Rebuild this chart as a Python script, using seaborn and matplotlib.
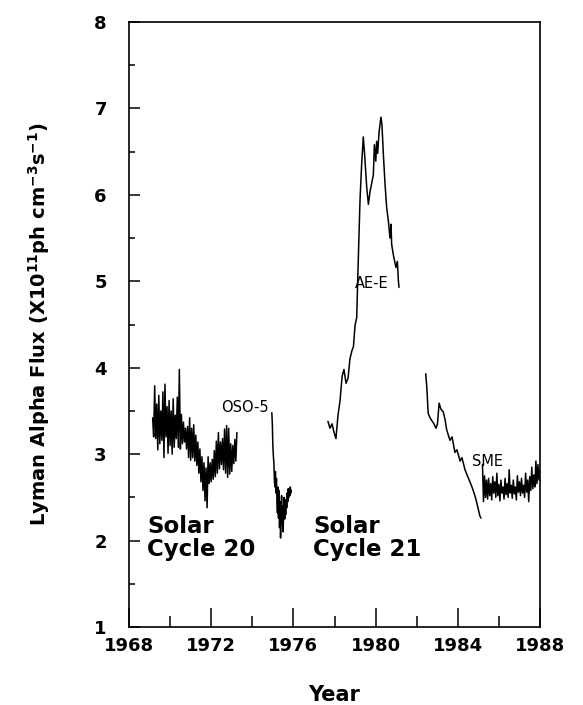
import numpy as np
import pandas as pd
import matplotlib
matplotlib.use("Agg")
import matplotlib.pyplot as plt
import seaborn as sns

# ---- Lyman alpha flux records (units of 1e11 ph cm^-3 s^-1) ----
# OSO-5, first stretch: evenly sampled every 0.05 yr from 1969.15
oso5_start, oso5_step = 1969.15, 0.05
oso5_flux = [
    3.42, 3.20, 3.79, 3.18, 3.58, 3.05, 3.68, 3.12, 3.50, 3.16,
    3.72, 2.96, 3.81, 3.20, 3.55, 3.01, 3.62, 3.10, 3.50, 3.00,
    3.64, 3.08, 3.45, 3.18, 3.66, 3.08, 3.98, 3.06, 3.46, 3.12,
    3.37, 3.14, 3.30, 3.06, 3.32, 2.96, 3.42, 2.93, 3.30, 2.96,
    3.34, 2.92, 3.22, 2.87, 3.14, 2.78, 3.06, 2.68, 2.97, 2.58,
    2.90, 2.46, 2.84, 2.38, 2.97, 2.66, 2.90, 2.68, 2.94, 2.71,
    3.04, 2.74, 3.15, 2.78, 3.25, 2.83, 3.14, 2.88, 3.18, 2.82,
    3.29, 2.78, 3.33, 2.73, 3.30, 2.77, 3.12, 2.80, 3.10, 2.89,
    3.17, 2.92, 3.25,
]

# OSO-5, second stretch: every 0.025 yr from 1974.95
oso5b_start, oso5b_step = 1974.95, 0.025
oso5b_flux = [
    3.48, 3.35, 3.10, 2.98, 2.90, 2.70, 2.62, 2.80, 2.55, 2.72,
    2.45, 2.32, 2.62, 2.26, 2.58, 2.15, 2.45, 2.03, 2.30, 2.52,
    2.18, 2.40, 2.10, 2.35, 2.50, 2.25, 2.42, 2.30, 2.48, 2.38,
    2.55, 2.45, 2.60, 2.50, 2.58, 2.52, 2.62, 2.55, 2.58,
]

# AE-E
aee_year = [
    1977.68, 1977.78, 1977.88, 1977.98, 1978.07, 1978.17, 1978.27, 1978.37,
    1978.46, 1978.56, 1978.66, 1978.75, 1978.85, 1978.92, 1979.00, 1979.08,
    1979.16, 1979.24, 1979.32, 1979.40, 1979.48, 1979.57, 1979.65, 1979.73,
    1979.89, 1979.94, 1980.01, 1980.05, 1980.10, 1980.17, 1980.26, 1980.31,
    1980.38, 1980.46, 1980.54, 1980.62, 1980.70, 1980.75, 1980.78, 1980.86,
    1980.99, 1981.06, 1981.11, 1981.14,
]
aee_flux = [
    3.38, 3.30, 3.35, 3.25, 3.18, 3.45, 3.62, 3.90,
    3.98, 3.82, 3.88, 4.10, 4.20, 4.24, 4.49, 4.58,
    5.27, 5.93, 6.35, 6.67, 6.42, 6.08, 5.89, 6.04,
    6.23, 6.58, 6.39, 6.62, 6.48, 6.73, 6.90, 6.81,
    6.46, 6.12, 5.85, 5.70, 5.50, 5.66, 5.43, 5.31,
    5.16, 5.23, 5.00, 4.93,
]

# SME, decline phase
sme_year = [
    1982.44, 1982.49, 1982.56, 1982.65, 1982.73, 1982.84, 1982.94, 1983.01,
    1983.09, 1983.18, 1983.29, 1983.38, 1983.46, 1983.54, 1983.62, 1983.72,
    1983.86, 1983.96, 1984.11, 1984.20, 1984.35, 1984.45, 1984.59, 1984.69,
    1984.79, 1984.88, 1984.98, 1985.08, 1985.13,
]
sme_flux = [
    3.93, 3.78, 3.47, 3.42, 3.39, 3.35, 3.30, 3.35,
    3.59, 3.52, 3.49, 3.40, 3.28, 3.22, 3.16, 3.20,
    3.02, 3.05, 2.92, 2.96, 2.82, 2.76, 2.68, 2.62,
    2.55, 2.48, 2.38, 2.28, 2.26,
]

# SME, minimum phase: every 0.05 yr from 1985.20
sme_min_start, sme_min_step = 1985.20, 0.05
sme_min_flux = [
    2.88, 2.45, 2.75, 2.50, 2.70, 2.48, 2.72, 2.52, 2.66, 2.47,
    2.74, 2.55, 2.68, 2.50, 2.78, 2.52, 2.65, 2.46, 2.70, 2.55,
    2.62, 2.48, 2.72, 2.53, 2.66, 2.50, 2.82, 2.55, 2.64, 2.49,
    2.70, 2.54, 2.62, 2.47, 2.75, 2.56, 2.68, 2.52, 2.72, 2.55,
    2.64, 2.50, 2.78, 2.56, 2.70, 2.45, 2.74, 2.58, 2.85, 2.60,
    2.76, 2.62, 2.92, 2.66, 2.88, 2.70, 2.82,
]

x_ticks = [1968, 1972, 1976, 1980, 1984, 1988]
x_minor = [1970, 1974, 1978, 1982, 1986]
y_ticks = [1, 2, 3, 4, 5, 6, 7, 8]
y_minor = [1.5, 2.5, 3.5, 4.5, 5.5, 6.5, 7.5]


def even_years(start, step, n):
    return np.round(start + step * np.arange(n), 4)


frames = [
    pd.DataFrame({"year": even_years(oso5_start, oso5_step, len(oso5_flux)),
                  "flux": oso5_flux, "seg": "oso5a"}),
    pd.DataFrame({"year": even_years(oso5b_start, oso5b_step, len(oso5b_flux)),
                  "flux": oso5b_flux, "seg": "oso5b"}),
    pd.DataFrame({"year": aee_year, "flux": aee_flux, "seg": "aee"}),
    pd.DataFrame({"year": sme_year, "flux": sme_flux, "seg": "sme1"}),
    pd.DataFrame({"year": even_years(sme_min_start, sme_min_step, len(sme_min_flux)),
                  "flux": sme_min_flux, "seg": "sme2"}),
]
df = pd.concat(frames, ignore_index=True)

sns.set_theme(style="ticks")
plt.rcParams["font.family"] = ["DejaVu Sans"]
plt.rcParams["mathtext.default"] = "bf"
for key in ("text.color", "axes.labelcolor", "xtick.color", "ytick.color",
            "axes.edgecolor"):
    plt.rcParams[key] = "black"

fig = plt.figure(figsize=(5.83, 7.05), dpi=100)
ax = fig.add_axes([129 / 583, 1 - 627 / 705, 411 / 583, 605 / 705])

sns.lineplot(data=df, x="year", y="flux", units="seg", estimator=None,
             color="black", linewidth=1.1, sort=False, ax=ax)

ax.set_xlim(1968, 1988)
ax.set_ylim(1, 8)
ax.set_xticks(x_ticks)
ax.set_xticks(x_minor, minor=True)
ax.set_yticks(y_ticks)
ax.set_yticks(y_minor, minor=True)
ax.set_xticklabels([str(t) for t in x_ticks], fontsize=13, fontweight="bold")
ax.set_yticklabels([str(t) for t in y_ticks], fontsize=13, fontweight="bold")

ax.tick_params(axis="x", which="major", direction="in", length=14, width=1.1, pad=7)
ax.tick_params(axis="x", which="minor", direction="in", length=8, width=1.1)
ax.tick_params(axis="y", which="major", direction="in", length=8, width=1.1, pad=16)
ax.tick_params(axis="y", which="minor", direction="in", length=4, width=1.1)

for sp in ax.spines.values():
    sp.set_visible(True)
    sp.set_linewidth(1.2)
    sp.set_color("black")

ax.set_xlabel("Year", fontsize=15, fontweight="bold", labelpad=22)
ax.set_ylabel(r"Lyman Alpha Flux (X10$^{11}$ph cm$^{-3}$s$^{-1}$)",
              fontsize=14, fontweight="bold", labelpad=30)

ax.text(1972.5, 3.54, "OSO-5", fontsize=10.5, ha="left", va="center")
ax.text(1979.0, 4.97, "AE-E", fontsize=10.5, ha="left", va="center")
ax.text(1984.7, 2.91, "SME", fontsize=10.5, ha="left", va="center")
ax.text(1968.9, 2.03, "Solar\nCycle 20", fontsize=16.5, fontweight="bold",
        ha="left", va="center", linespacing=0.95)
ax.text(1976.95, 2.03, "Solar\nCycle 21", fontsize=16.5, fontweight="bold",
        ha="left", va="center", linespacing=0.95)

fig.savefig("out.png", dpi=100)
